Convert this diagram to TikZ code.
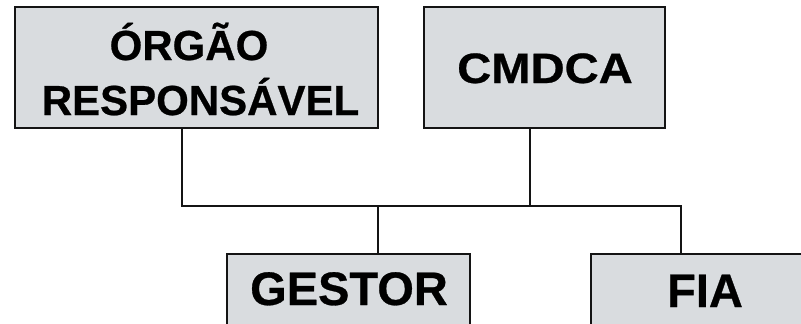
\documentclass[tikz,border=0pt]{standalone}
\usepackage{fontspec}
\setmainfont{Liberation Sans}
\newfontfamily\heavyfont[FakeBold=0.6]{Liberation Sans Bold}
\usepackage{graphicx}
\definecolor{boxgray}{RGB}{217,220,223}
\definecolor{edge}{RGB}{20,20,20}
\begin{document}
\begin{tikzpicture}[x=1pt,y=-1pt,
  box/.style={draw=edge, line width=1.8pt, fill=boxgray, rectangle, inner sep=0pt},
  lbltop/.style={font=\fontsize{42}{42}\selectfont\heavyfont, anchor=base, inner sep=0pt},
  lblbot/.style={font=\fontsize{47}{47}\selectfont\heavyfont, anchor=base, inner sep=0pt},
  conn/.style={draw=edge, line width=1.6pt}]
\useasboundingbox (0,0) rectangle (801,324);
\clip (0,0) rectangle (801,324);
% boxes
\node[box, minimum width=363pt, minimum height=121pt] (b1) at (196.5,67.5) {};
\node[box, minimum width=241pt, minimum height=121pt] (b2) at (544.5,67.5) {};
\node[box, minimum width=243pt, minimum height=110pt] (b3) at (348.5,309) {};
\node[box, minimum width=228pt, minimum height=110pt] (b4) at (705,309) {};
% labels
\node[lbltop] (t1a) at (189,60) {ÓRGÃO};
\node[lbltop] (t1b) at (200.5,115) {RESPONSÁVEL};
\node[lbltop, font=\fontsize{42.5}{42.5}\selectfont\heavyfont] (t2) at (545,83) {\scalebox{1.11}[1]{CMDCA}};
\node[lblbot] (t3) at (349,305) {GESTOR};
\node[lblbot] (t4) at (705,307) {FIA};
% junction coordinates
\coordinate (cl) at (182,206);
\coordinate (cr) at (530,206);
\coordinate (cg) at (378,206);
\coordinate (cf) at (681,206);
% connectors
\draw[conn] (b1.south -| cl) -- (cl) -- (cr);
\draw[conn] (b2.south -| cr) -- (cr) -- (cf) -- (b4.north -| cf);
\draw[conn] (cg) -- (b3.north -| cg);
\end{tikzpicture}
\end{document}
